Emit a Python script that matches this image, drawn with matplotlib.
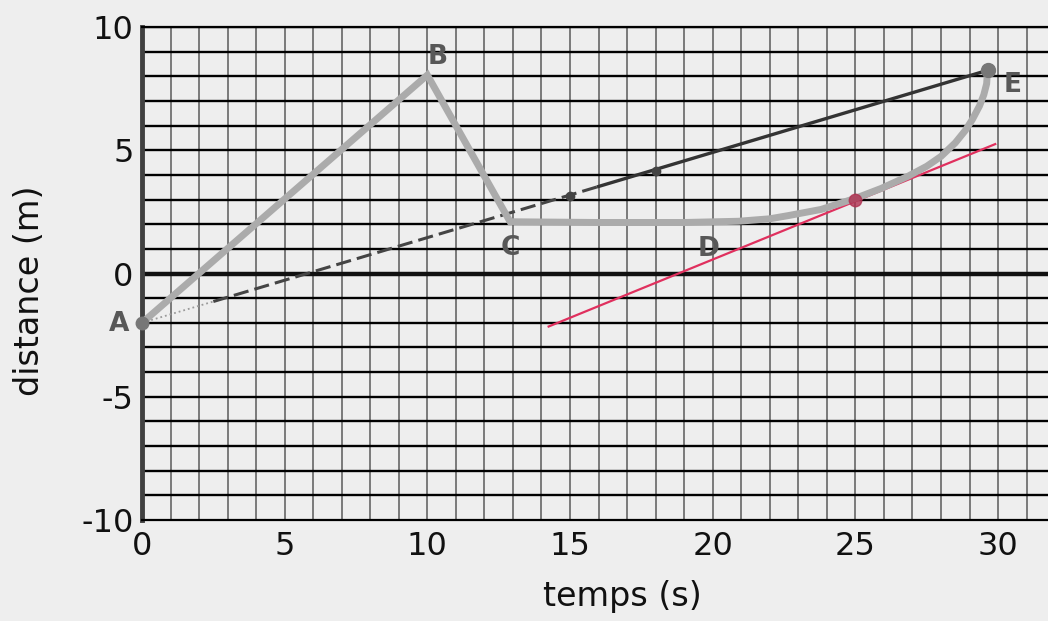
import matplotlib
matplotlib.use('Agg')
import matplotlib.pyplot as plt
import numpy as np

plt.rcParams['axes.unicode_minus'] = False

# path A -> B -> C -> D -> E
path_t = [0, 10, 12.9, 16, 19, 20.9, 22.0, 22.65, 23.8, 25.0, 25.9, 26.85, 27.5, 28.0,
          28.5, 28.85, 29.1, 29.35, 29.5, 29.6, 29.62]
path_d = [-2, 8.05, 2.1, 2.07, 2.07, 2.12, 2.22, 2.35, 2.6, 3.05, 3.45, 3.95, 4.35, 4.75,
          5.3, 5.8, 6.25, 6.8, 7.25, 7.7, 8.05]

# secant A-E (dashed) and tangent at t=25 (red)
sec_t = [0, 29.65]
sec_d = [-2, 8.25]
sec_dots_t = [15, 18]
sec_dots_d = [3.15, 4.15]
tan_t = [14.25, 29.9]
tan_d = [-2.15, 5.25]
tan_pt = (25, 2.98)

point_names = ['A', 'B', 'C', 'D', 'E']
name_t = [-0.8, 10.35, 12.9, 19.85, 30.5]
name_d = [-2.05, 8.8, 1.05, 1.0, 7.65]

bg = '#eeeeee'
fig = plt.figure(figsize=(10.48, 6.21), dpi=100, facecolor=bg)
ax1 = fig.add_axes([0.1355, 0.1626, 0.8645, 0.7939])
ax1.set_facecolor(bg)
ax1.set_xlim(0, 31.75)
ax1.set_ylim(-10, 10)

# paper grid
for x in range(1, 32):
    ax1.axvline(x, color='#5a5a5a', linewidth=1.1, zorder=1)
for y in range(-9, 11):
    ax1.axhline(y, color='black', linewidth=1.7, zorder=1)
ax1.axhline(0, color='#111111', linewidth=3.2, zorder=2)

# secant line
slope = (sec_d[1] - sec_d[0]) / (sec_t[1] - sec_t[0])
ax1.plot([sec_t[0], 2.5], [sec_d[0], sec_d[0] + 2.5 * slope],
         color='#9a9a9a', linewidth=1.3, linestyle=':', zorder=3)
ax1.plot([2.5, 16], [sec_d[0] + 2.5 * slope, sec_d[0] + 16 * slope],
         color='#444444', linewidth=2.2, linestyle=(0, (5, 2)), zorder=3)
ax1.plot([16, sec_t[1]], [sec_d[0] + 16 * slope, sec_d[1]],
         color='#333333', linewidth=2.4, zorder=3)
ax1.plot(sec_dots_t, sec_dots_d, 'o', color='#444444', markersize=6, zorder=4)

# tangent line
ax1.plot(tan_t, tan_d, color='#e0305e', linewidth=1.6, zorder=3)

# motion path
ax1.plot(path_t, path_d, color='#ababab', linewidth=5, solid_joinstyle='miter',
         solid_capstyle='round', zorder=5)
ax1.plot(tan_pt[0], tan_pt[1], 'o', color='#b03050', markersize=9, alpha=0.8, zorder=6)
ax1.plot(sec_t[1], sec_d[1], 'o', color='#777777', markersize=10, zorder=6)
ax1.plot(0, -2, 'o', color='#777777', markersize=9, zorder=6, clip_on=False)

for n, t, d in zip(point_names, name_t, name_d):
    ax1.text(t, d, n, fontsize=19, fontweight='bold', color='#585858',
             ha='center', va='center', zorder=7, clip_on=False)

# axes look
ax1.spines['left'].set_color('#404040')
ax1.spines['left'].set_linewidth(3.5)
ax1.spines['bottom'].set_color('black')
ax1.spines['bottom'].set_linewidth(1.6)
ax1.spines['top'].set_color('black')
ax1.spines['top'].set_linewidth(1.6)
ax1.spines['right'].set_visible(False)

ax1.set_xticks([0, 5, 10, 15, 20, 25, 30])
ax1.set_yticks([-10, -5, 0, 5, 10])
ax1.tick_params(axis='both', length=0, labelsize=23, colors='#111111')
ax1.tick_params(axis='x', pad=8)
ax1.tick_params(axis='y', pad=6)

ax1.text(0.53, -0.156, 'temps (s)', transform=ax1.transAxes, fontsize=24,
         ha='center', va='center', color='#111111')
ax1.text(-0.124, 0.465, 'distance (m)', transform=ax1.transAxes, fontsize=24,
         ha='center', va='center', rotation=90, color='#111111')

plt.savefig('out.png', dpi=100, facecolor=bg)
